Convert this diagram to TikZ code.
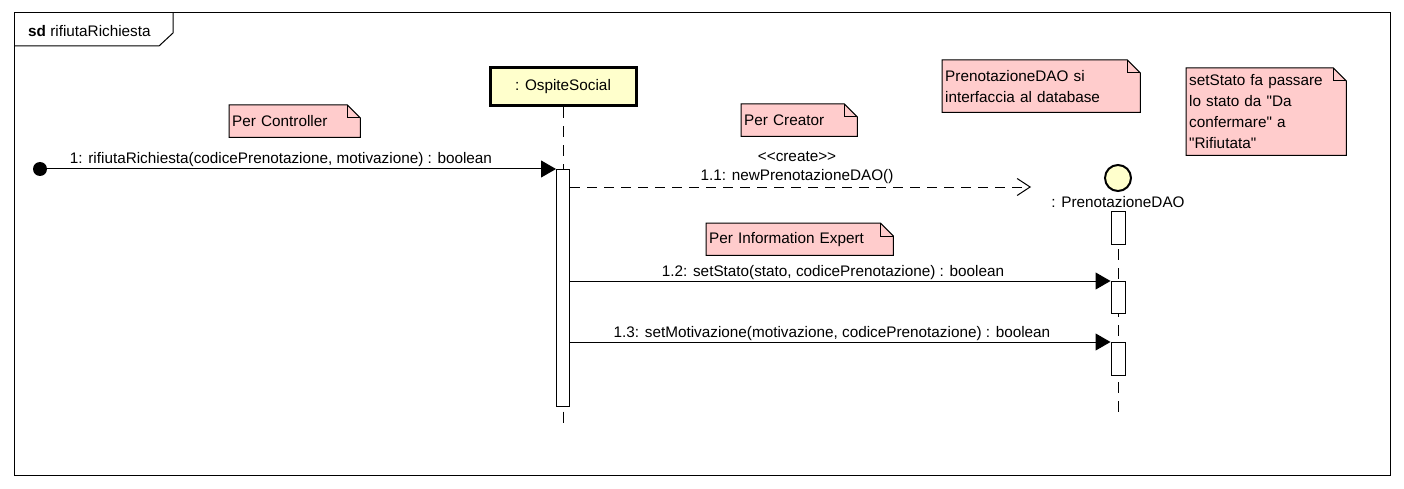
\documentclass[tikz,border=0pt]{standalone}
\usepackage{fontspec}
\newfontfamily\umlfont{Liberation Sans}
\usepackage{tikz}
\usetikzlibrary{positioning}
\usetikzlibrary{calc}
\usetikzlibrary{arrows.meta}
\usetikzlibrary{backgrounds}

\definecolor{notepink}{RGB}{255,204,204}
\definecolor{objyellow}{RGB}{255,255,204}

\tikzset{
    umltext/.style={font=\umlfont\fontsize{15.3}{21}\selectfont, inner sep=0pt},
    umlnote/.style={umltext, anchor=north west, align=left, inner xsep=3pt, inner ysep=0pt},
    lifeline/.style={line width=1pt, dash pattern=on 11pt off 8pt},
    activation/.style={draw, fill=white, line width=1pt, minimum width=13pt, inner sep=0pt},
    syncmsg/.style={line width=1pt, -{Triangle[length=15pt,width=17pt]}},
    createmsg/.style={line width=1pt, dash pattern=on 10pt off 7pt, -{Straight Barb[length=13pt,width=17pt]}},
}

% dog-eared outline behind a note node
\newcommand{\notefold}[1]{
    \fill[black!15, shift={(2,2)}] (#1.north west) -- ([xshift=-13pt]#1.north east)
        -- ([yshift=-13pt]#1.north east) -- (#1.south east) -- (#1.south west) -- cycle;
    \filldraw[fill=notepink, line width=1pt] (#1.north west) -- ([xshift=-13pt]#1.north east)
        -- ([yshift=-13pt]#1.north east) -- (#1.south east) -- (#1.south west) -- cycle;
    \draw[line width=1pt] ([xshift=-13pt]#1.north east) |- ([yshift=-13pt]#1.north east);
}

\begin{document}
\begin{tikzpicture}[x=1pt, y=-1pt]
    \useasboundingbox (0,0) rectangle (1404,489);

    % frame
    \draw[line width=1pt] (14,13) rectangle (1390,475);
    \draw[line width=1pt] (14,46) -- (159,46) -- (173,33) -- (173,13);
    \node[umltext, anchor=base west] (frametitle) at (28,37) {\textbf{sd} rifiutaRichiesta};

    % lifelines
    \node[umltext, draw, fill=objyellow, line width=3pt, minimum width=146pt, minimum height=38pt] (ospite) at (563,87) {: OspiteSocial};
    \node[draw, fill=objyellow, circle, line width=2pt, minimum size=26pt, inner sep=0pt] (dao) at (1118,178) {};
    \node[umltext, anchor=base] (daolabel) at (1118,207) {: PrenotazioneDAO};
    \coordinate (ospiteend) at (563,425);
    \coordinate (daoend) at (1118,418);
    \draw[lifeline] (ospite.south) -- (ospiteend);
    \draw[lifeline] (1118,211) -- (daoend);

    % activations
    \node[activation, anchor=north, minimum height=237pt] (actA) at (563,169) {};
    \node[activation, anchor=north, minimum height=33pt, minimum width=14pt] (actB) at (1118,211) {};
    \node[activation, anchor=north, minimum height=32pt, minimum width=14pt] (actC) at (1118,281) {};
    \node[activation, anchor=north, minimum height=33pt, minimum width=14pt] (actD) at (1118,342) {};

    % found message
    \node[circle, fill, inner sep=0pt, minimum size=14pt] (found) at (40,169) {};
    \draw[syncmsg] (found.center) -- (actA.north west);
    \node[umltext, anchor=base] (msgA) at (281,164) {1: rifiutaRichiesta(codicePrenotazione, motivazione) : boolean};

    % create message
    \coordinate (createend) at (1031,187);
    \draw[createmsg] (actA.east |- createend) -- (createend);
    \node[umltext, anchor=base] (stereo) at (797,161) {<{}<create>{}>};
    \node[umltext, anchor=base] (msgB) at (797,181) {1.1: newPrenotazioneDAO()};

    % calls on the DAO
    \draw[syncmsg] (actA.east |- actC.north) -- (actC.north west);
    \node[umltext, anchor=base] (msgC) at (833,276) {1.2: setStato(stato, codicePrenotazione) : boolean};
    \draw[syncmsg] (actA.east |- actD.north) -- (actD.north west);
    \node[umltext, anchor=base] (msgD) at (832,337) {1.3: setMotivazione(motivazione, codicePrenotazione) : boolean};

    % notes
    \node[umlnote, text width=125pt, minimum height=32pt] (ctrlnote) at (229,105) {Per Controller};
    \node[umlnote, text width=110pt, minimum height=32pt] (creatornote) at (741,104) {Per Creator};
    \node[umlnote, text width=181pt, minimum height=32pt] (expertnote) at (706,223) {Per Information Expert};
    \node[umlnote, text width=192pt, minimum height=52pt] (daonote) at (942,60) {PrenotazioneDAO si\\interfaccia al database};
    \node[umlnote, text width=154pt, minimum height=87pt] (statonote) at (1186,68) {setStato fa passare\\lo stato da "Da\\confermare" a\\"Rifiutata"};
    \begin{scope}[on background layer]
        \foreach \n in {ctrlnote, creatornote, expertnote, daonote, statonote} {
            \notefold{\n}
        }
    \end{scope}
\end{tikzpicture}
\end{document}
